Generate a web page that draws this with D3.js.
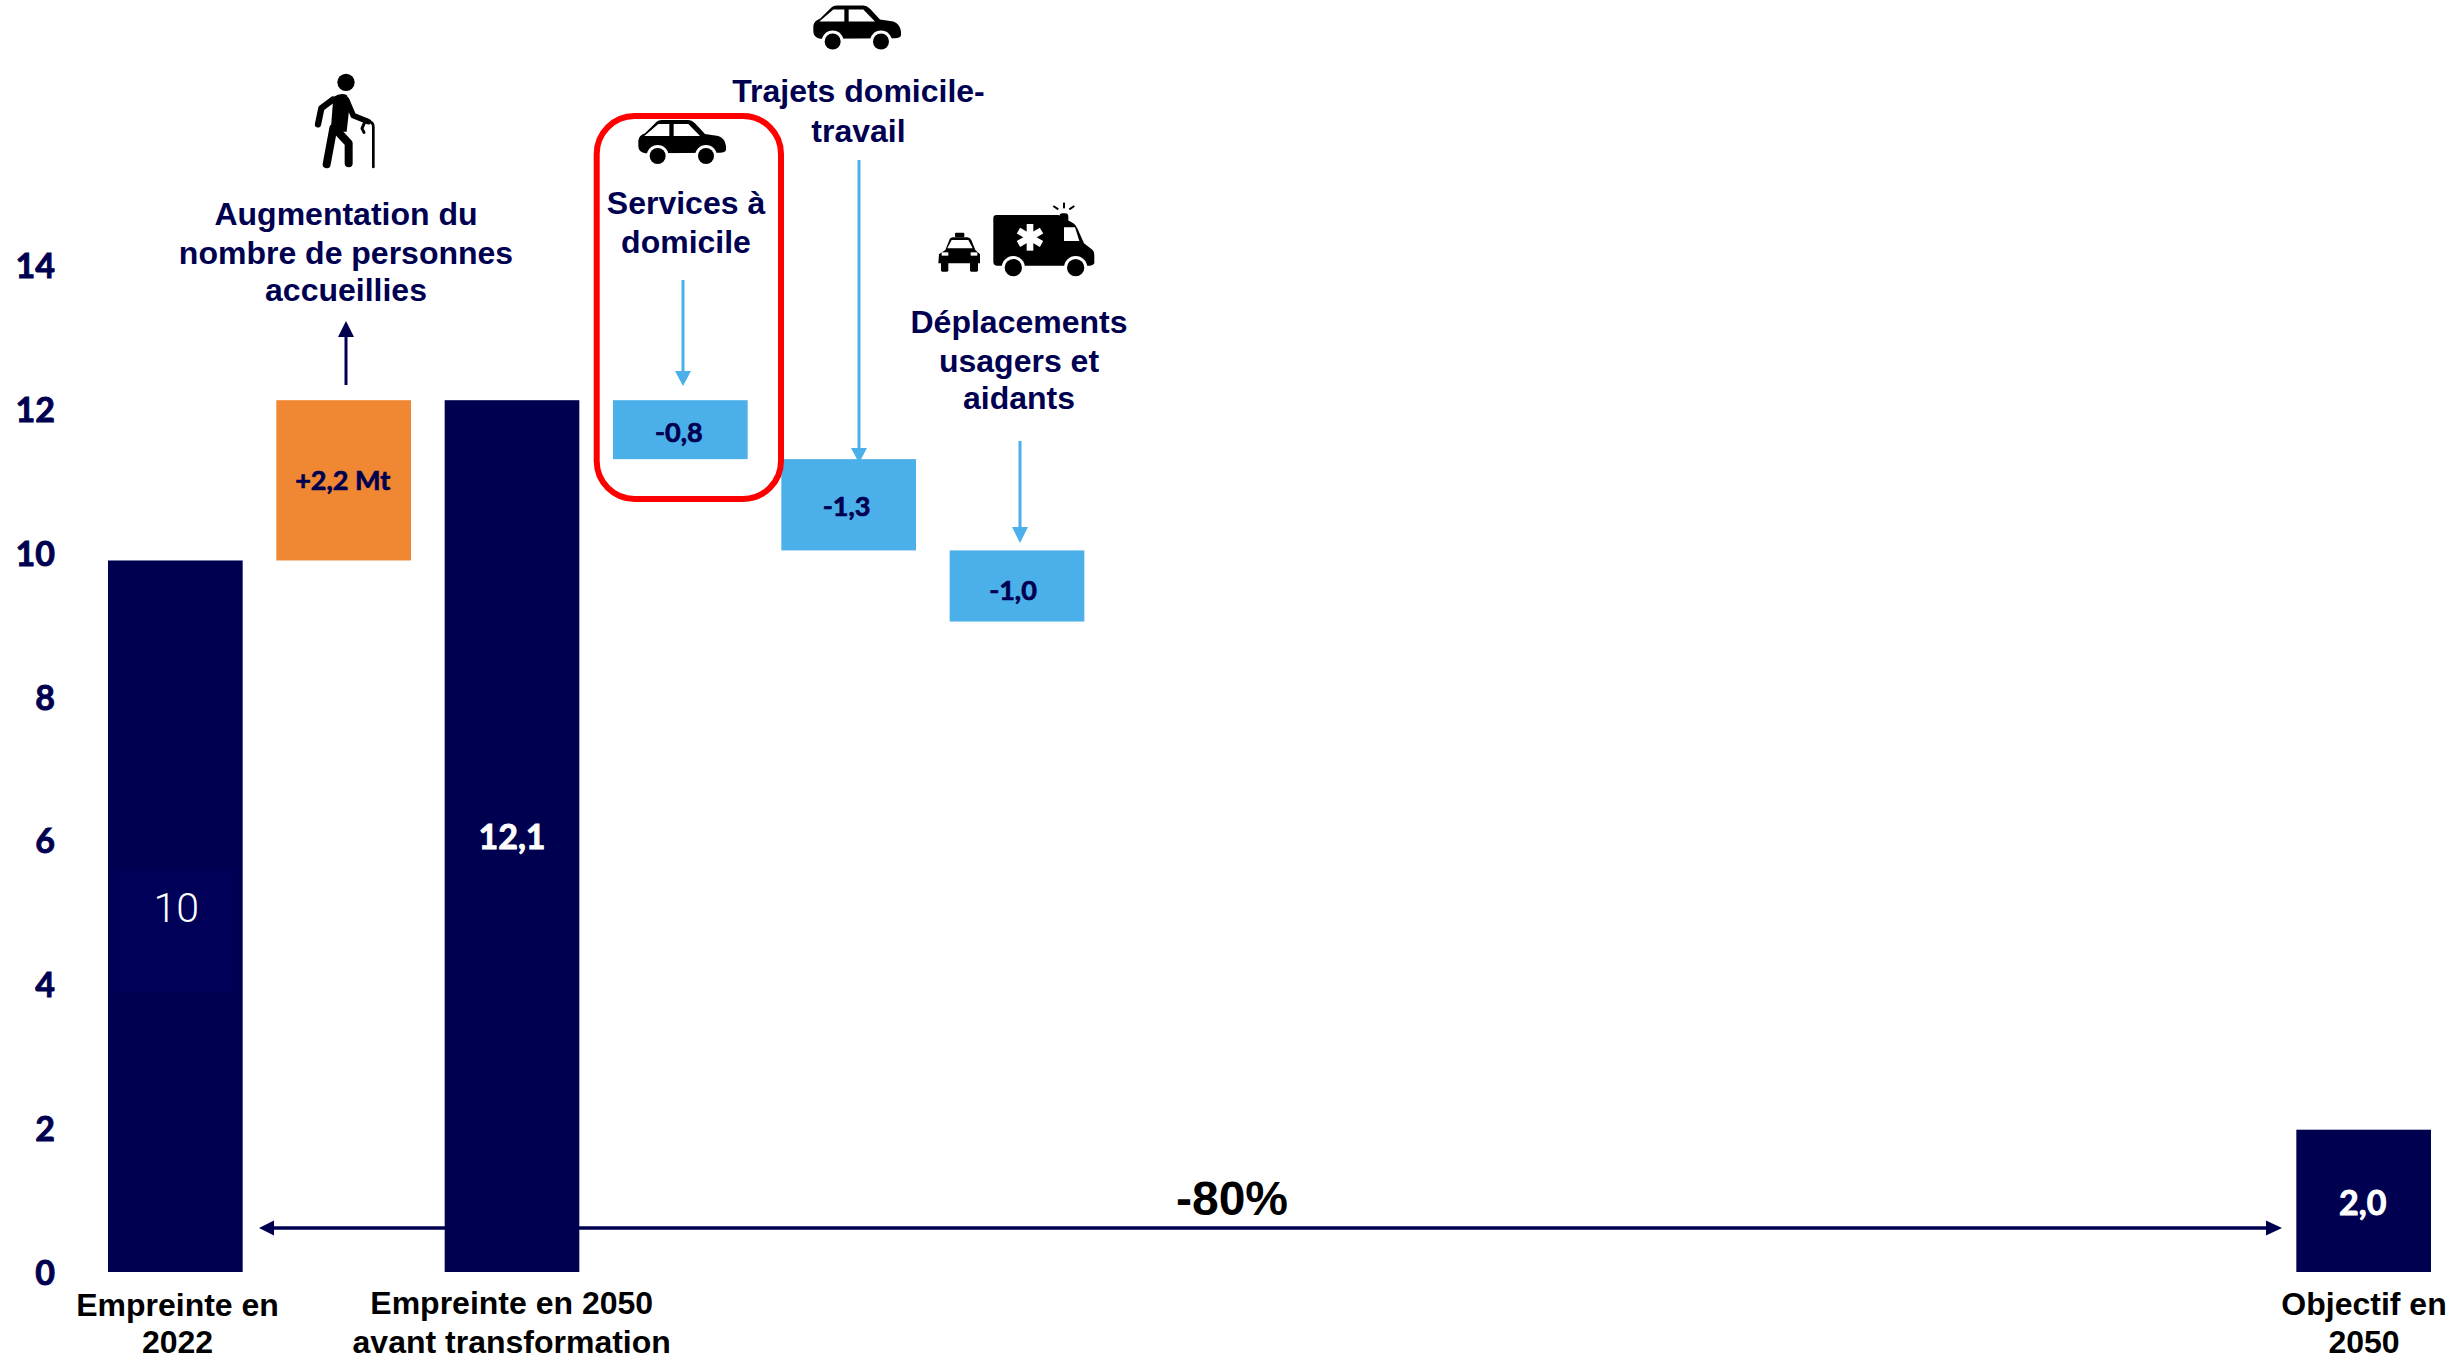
<!DOCTYPE html>
<html lang="fr">
<head>
<meta charset="utf-8">
<script src="https://cdn.jsdelivr.net/npm/d3@7/dist/d3.min.js"></script>
<style>
html,body{margin:0;padding:0;background:#fff;overflow:hidden}
svg{display:block}
text{font-family:"Liberation Sans",Arial,sans-serif}
</style>
</head>
<body>
<svg id="c" width="2453" height="1360" viewBox="0 0 2453 1360"></svg>
<script>
// ---- data ----
const slots = d3.range(14);
const barSlots = [0, 1, 2, 3, 4, 5, 13];
const barBases = [0, 9.9, 0, 12.13, 11.31, 10.04, 0];
const barTops = [9.9, 12.13, 12.13, 11.31, 10.04, 9.05, 1.98];
const barKinds = ["total", "up", "total", "down", "down", "down", "total"];
const barLabels = ["10", "+2,2 Mt", "12,1", "-0,8", "-1,3", "-1,0", "2,0"];
const yTicks = [0, 2, 4, 6, 8, 10, 12, 14];
const bottomLabels = [["Empreinte en", "2022"], ["Empreinte en 2050", "avant transformation"], ["Objectif en", "2050"]];
const topLabels = [
  ["Augmentation du", "nombre de personnes", "accueillies"],
  ["Services à", "domicile"],
  ["Trajets domicile-", "travail"],
  ["Déplacements", "usagers et", "aidants"]
];
const reductionLabel = "-80%";

// ---- style and layout ----
const NAVY = "#000050", BLUE = "#4BAFEA", ORANGE = "#F08733", RED = "#FF0000";
const fillOf = {total: NAVY, up: ORANGE, down: BLUE};
const svg = d3.select("#c");
const x = d3.scaleBand().domain(slots).range([108, 2431]).paddingInner(0.2).paddingOuter(0);
const y = d3.scaleLinear().domain([0, 14]).range([1272, 265.8]);

// ---- bars ----
svg.append("g").selectAll("rect").data(barSlots).join("rect")
  .attr("x", d => x(d))
  .attr("width", x.bandwidth())
  .attr("y", (d, i) => Math.min(y(barTops[i]), y(barBases[i])))
  .attr("height", (d, i) => Math.abs(y(barBases[i]) - y(barTops[i])))
  .attr("fill", (d, i) => fillOf[barKinds[i]]);

// faint lighter box behind the "10" label
svg.append("rect").attr("x", x(0) + 6).attr("width", x.bandwidth() - 12)
  .attr("y", 869).attr("height", 124).attr("fill", "#000058");

// ---- y axis ----
const axis = svg.append("g").attr("transform", "translate(55,1.2)")
  .call(d3.axisLeft(y).tickValues(yTicks).tickSize(0).tickPadding(0).tickFormat(d3.format("d")));
axis.select(".domain").remove();
axis.selectAll("text").attr("fill", NAVY).attr("stroke", NAVY).attr("stroke-width", 0.9)
  .attr("font-size", 34).style("font-family", "Lato").style("font-weight", 700);

// ---- value labels ----
const labelStyle = [
  {dx: 1, by: 921.7, size: 41, fill: "#fff", font: "Roboto", weight: 300, sw: 0},
  {dx: -1, by: 490, size: 27, fill: NAVY, sw: 0.7},
  {dx: 0, by: 849, size: 34, fill: "#fff", sw: 0.9},
  {dx: -1.5, by: 441.7, size: 27, fill: NAVY, sw: 0.7},
  {dx: -2, by: 515.6, size: 27, fill: NAVY, sw: 0.7},
  {dx: -4, by: 600, size: 27, fill: NAVY, sw: 0.7},
  {dx: -1, by: 1215, size: 34, fill: "#fff", sw: 0.9}
];
svg.append("g").selectAll("text").data(barLabels).join("text")
  .text(d => d)
  .attr("text-anchor", "middle")
  .attr("x", (d, i) => x(barSlots[i]) + x.bandwidth() / 2 + labelStyle[i].dx)
  .attr("y", (d, i) => labelStyle[i].by)
  .attr("font-size", (d, i) => labelStyle[i].size)
  .attr("fill", (d, i) => labelStyle[i].fill)
  .attr("stroke", (d, i) => labelStyle[i].fill)
  .attr("stroke-width", (d, i) => labelStyle[i].sw)
  .style("font-family", (d, i) => labelStyle[i].font || "Lato")
  .style("font-weight", (d, i) => labelStyle[i].weight || 700);

// ---- multi-line labels ----
function lines(rows, cx, baselines, fill, size) {
  rows.forEach((t, i) => svg.append("text").text(t)
    .attr("x", cx).attr("y", baselines[i]).attr("text-anchor", "middle")
    .attr("font-size", size).attr("font-weight", 700).attr("fill", fill));
}
lines(topLabels[0], 346, [225, 264, 301], NAVY, 32);
lines(topLabels[1], 686, [214, 253], NAVY, 32);
lines(topLabels[2], 858.5, [102, 142], NAVY, 32);
lines(topLabels[3], 1019, [332.5, 372, 409], NAVY, 32);
lines(bottomLabels[0], 177.5, [1316, 1353], "#000", 32);
lines(bottomLabels[1], 511.7, [1314, 1353], "#000", 32);
lines(bottomLabels[2], 2364, [1315, 1353], "#000", 32);
svg.append("text").text(reductionLabel).attr("x", 1232).attr("y", 1215)
  .attr("text-anchor", "middle").attr("font-size", 48).attr("font-weight", 700).attr("fill", "#000");

// ---- arrows ----
function arrow(x1, y1, x2, y2, color, w, len, half) {
  const a = Math.atan2(y2 - y1, x2 - x1), ux = Math.cos(a), uy = Math.sin(a);
  const bx = x2 - ux * len, by = y2 - uy * len;
  svg.append("line").attr("x1", x1).attr("y1", y1).attr("x2", bx).attr("y2", by)
    .attr("stroke", color).attr("stroke-width", w);
  svg.append("path").attr("fill", color).attr("d",
    `M${x2},${y2}L${bx - uy * half},${by + ux * half}L${bx + uy * half},${by - ux * half}Z`);
}
arrow(346, 385, 346, 321, NAVY, 3, 16, 8);
arrow(683, 280, 683, 386, BLUE, 3, 15, 8);
arrow(859, 160, 859, 463, BLUE, 3, 15, 8);
arrow(1020, 441, 1020, 543, BLUE, 3, 16, 8);

// double arrow
svg.append("line").attr("x1", 270).attr("x2", 2270).attr("y1", 1228).attr("y2", 1228)
  .attr("stroke", NAVY).attr("stroke-width", 3.5);
svg.append("path").attr("fill", NAVY).attr("d", "M259,1228L274,1220.5V1235.5Z");
svg.append("path").attr("fill", NAVY).attr("d", "M2282,1228L2266,1220.5V1235.5Z");

// ---- highlight box ----
svg.append("rect").attr("x", 596.7).attr("y", 116).attr("width", 184.3).attr("height", 383)
  .attr("rx", 38).attr("ry", 38).attr("fill", "none").attr("stroke", RED).attr("stroke-width", 6);

// ---- icons ----
function person(g) {
  g.append("circle").attr("cx", 138).attr("cy", 52).attr("r", 26);
  g.append("path").attr("d", "M100,96 Q122,82 140,90 L150,110 L140,200 L92,200 Z");
  const s = (d, w) => g.append("path").attr("d", d).attr("fill", "none").attr("stroke", "#000")
    .attr("stroke-width", w).attr("stroke-linecap", "round").attr("stroke-linejoin", "round");
  s("M98,104 L64,130 L54,178", 19);
  s("M100,190 L80,298", 24);
  s("M118,205 L146,235 L146,295", 24);
  s("M140,105 L160,152 L205,170", 17);
  s("M194,172 L186,190 L192,202", 9);
  s("M205,170 Q220,170 220,186 L220,306", 8);
}
function car(g) {
  g.append("path").attr("d", "M40,92 Q42,76 60,70 L95,35 Q100,30 110,30 L190,30 Q200,30 210,40 L240,72 L280,78 Q300,85 303,108 L303,120 Q300,128 285,128 L60,130 Q40,125 40,108 Z");
  g.selectAll("circle.r").data([98, 243]).join("circle").attr("class", "r").attr("cx", d => d).attr("cy", 138).attr("r", 33).attr("fill", "#fff");
  g.selectAll("circle.w").data([98, 243]).join("circle").attr("class", "w").attr("cx", d => d).attr("cy", 138).attr("r", 24).attr("fill", "#000");
  g.append("path").attr("fill", "#fff").attr("d", "M58,78 L100,42 L133,42 L133,78 Z M146,42 L190,42 L225,78 L146,78 Z");
}
function transport(g) {
  // taxi
  g.append("rect").attr("x", 75).attr("y", 113).attr("width", 28).attr("height", 14).attr("rx", 3);
  g.append("path").attr("d", "M46,165 L58,135 Q60,127 70,127 L112,127 Q120,127 124,135 L136,165 L150,178 L150,205 L25,205 L27,178 Z");
  g.append("path").attr("fill", "#fff").attr("d", "M52,160 L65,135 L115,135 L128,160 Z");
  g.append("rect").attr("x", 35).attr("y", 172).attr("width", 20).attr("height", 10).attr("fill", "#fff");
  g.append("rect").attr("x", 122).attr("y", 172).attr("width", 20).attr("height", 10).attr("fill", "#fff");
  g.append("rect").attr("x", 33).attr("y", 200).attr("width", 22).attr("height", 30).attr("rx", 4);
  g.append("rect").attr("x", 120).attr("y", 200).attr("width", 24).attr("height", 30).attr("rx", 4);
  // ambulance
  g.append("path").attr("d", "M200,60 L385,60 L430,85 Q438,90 442,100 L462,145 L488,165 Q493,170 493,180 L493,205 Q490,212 480,212 L200,212 Q190,210 190,200 L190,70 Q190,60 200,60 Z");
  g.append("rect").attr("x", 388).attr("y", 55).attr("width", 27).attr("height", 32).attr("rx", 10);
  g.selectAll("line.ray").data([[370, 33, 385, 43], [402, 23, 402, 40], [433, 33, 418, 43]]).join("line").attr("class", "ray")
    .attr("x1", d => d[0]).attr("y1", d => d[1]).attr("x2", d => d[2]).attr("y2", d => d[3])
    .attr("stroke", "#000").attr("stroke-width", 6);
  g.append("path").attr("fill", "#fff").attr("d", "M402,97 L435,97 L448,138 L402,138 Z");
  [0, 60, 120].forEach(a => g.append("rect").attr("x", 290).attr("y", 87).attr("width", 20).attr("height", 80)
    .attr("fill", "#fff").attr("transform", `rotate(${a} 300 127)`));
  g.selectAll("circle.r").data([250, 437]).join("circle").attr("class", "r").attr("cx", d => d).attr("cy", 218).attr("r", 35).attr("fill", "#fff");
  g.selectAll("circle.w").data([250, 437]).join("circle").attr("class", "w").attr("cx", d => d).attr("cy", 218).attr("r", 26).attr("fill", "#000");
}
person(svg.append("g").attr("transform", "translate(300,65) scale(0.3333)"));
car(svg.append("g").attr("transform", "translate(625,110) scale(0.3333)"));
car(svg.append("g").attr("transform", "translate(800,-4.5) scale(0.3333)"));
transport(svg.append("g").attr("transform", "translate(930,195) scale(0.3333)"));
</script>
</body>
</html>
